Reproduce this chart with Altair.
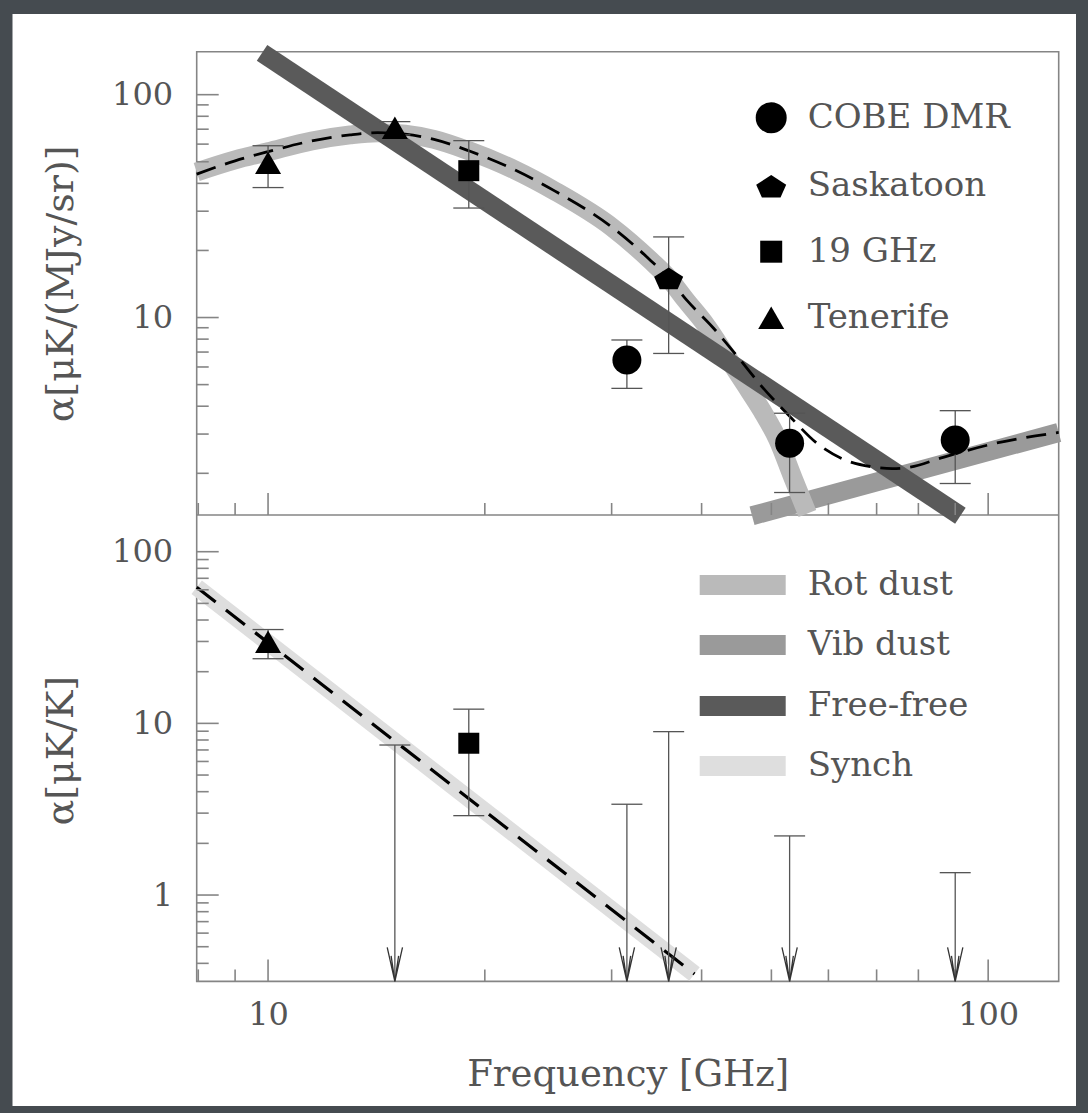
import altair as alt
import pandas as pd

# ---------------- values ----------------
X_DOMAIN = [7.96, 125.3]          # GHz
TOP_Y_DOMAIN = [1.30, 155.9]      # uK/(MJy/sr)
BOT_Y_DOMAIN = [0.314, 163.6]     # uK/K

# top panel measurements
top_survey = ["COBE DMR", "COBE DMR", "COBE DMR", "Saskatoon", "19 GHz", "Tenerife", "Tenerife"]
top_nu = [31.5, 53.0, 90.0, 36.0, 19.0, 10.0, 15.0]
top_val = [6.45, 2.73, 2.82, 15.0, 45.6, 49.5, 71.0]
top_lo = [4.81, 1.64, 1.80, 6.9, 31.0, 38.3, 66.0]
top_hi = [7.93, 3.72, 3.82, 23.0, 62.2, 59.0, 75.7]

# top panel model curves
rot_nu = [7.96, 9, 10, 11.5, 13, 14.2, 15.5, 17, 19, 22, 25, 30, 34, 36, 38, 40.5, 43.6, 46, 48.5, 51, 53.6, 56.1]
rot_val = [45, 51, 55.5, 62, 66, 67.5, 66.5, 63, 56, 46, 37, 25.5, 18, 15, 12, 9.3, 6.5, 5.0, 3.83, 2.85, 1.9, 1.32]
vib_nu = [47.0, 125.3]
vib_val = [1.29, 3.05]
ff_nu = [9.81, 91.5]
ff_val = [154.0, 1.29]
tot_nu = [7.96, 9, 10, 11.5, 13, 14.2, 15.5, 17, 19, 22, 25, 30, 34, 36, 38.2, 41.5, 45, 48.5, 53.2,
          57.9, 62.6, 69.7, 73.6, 77.8, 86.6, 102, 125.3]
tot_val = [44, 50.5, 55.5, 62, 66, 67.5, 66.5, 63, 56, 46, 37, 25.5, 18, 15, 11.9, 9.0, 6.6, 4.9, 3.56,
           2.72, 2.33, 2.13, 2.10, 2.13, 2.36, 2.72, 3.05]

# bottom panel measurements
bot_survey = ["Tenerife", "19 GHz"]
bot_nu = [10.0, 19.0]
bot_val = [29.9, 7.66]
bot_lo = [23.8, 2.90]
bot_hi = [35.2, 12.1]
lim_nu = [15.0, 31.5, 36.0, 53.0, 90.0]        # upper limits
lim_val = [7.48, 3.38, 8.95, 2.21, 1.35]
syn_nu = [7.96, 39.1]
syn_val = [62.1, 0.347]

# ticks
x_major = [10, 100]
x_minor = [8, 9, 20, 30, 40, 50, 60, 70, 80, 90]
ytop_major = [10, 100]
ytop_minor = [2, 3, 4, 5, 6, 7, 8, 9, 20, 30, 40, 50, 60, 70, 80, 90]
ybot_major = [1, 10, 100]
ybot_minor = [0.4, 0.5, 0.6, 0.7, 0.8, 0.9, 2, 3, 4, 5, 6, 7, 8, 9, 20, 30, 40, 50, 60, 70, 80, 90]

top_legend = ["COBE DMR", "Saskatoon", "19 GHz", "Tenerife"]
bot_legend = ["Rot dust", "Vib dust", "Free-free", "Synch"]

# ---------------- styling / layout ----------------
W, H1, H2 = 862, 463.3, 466.4
H = H1 + H2
PAD_L, PAD_T = 196.7, 51.7
FONT = "DejaVu Serif"
TXT = "#555555"
FRAME = "#858585"
C_ROT, C_VIB, C_FF, C_SYN = "#bababa", "#9a9a9a", "#5a5a5a", "#dedede"
ERR = "#555555"
PENTAGON = "M0,-0.75L1,-0.1L0.62,0.75L-0.62,0.75L-1,-0.1Z"
ARROW = "M-0.45,-1L0,1L0.45,-1M-0.22,-0.5L0,1L0.22,-0.5"

xs = alt.Scale(type="log", domain=X_DOMAIN, nice=False)
ys_top = alt.Scale(type="log", domain=TOP_Y_DOMAIN, range=[H1, 0], nice=False)
ys_bot = alt.Scale(type="log", domain=BOT_Y_DOMAIN, range=[H, H1], nice=False)


def yaxis(values, title, cy):
    return alt.Axis(values=values, format="~g", orient="left", ticks=False, tickSize=0, domain=False,
                    grid=False, labelPadding=24, labelFontSize=32, labelFont=FONT, labelColor=TXT,
                    title=title, titleFont=FONT, titleFontSize=38, titleFontWeight="normal",
                    titleColor=TXT, titleAngle=270, titleX=-135, titleY=cy,
                    titleAlign="center", titleBaseline="middle", zindex=1)


AX_TOP = yaxis(ytop_major, "α[μK/(MJy/sr)]", H1 / 2)
AX_BOT = yaxis(ybot_major, "α[μK/K]", H1 + H2 / 2 + 2)
AX_X = alt.Axis(values=x_major, format="~g", orient="bottom", ticks=False, tickSize=0, domain=False,
                grid=False, labelPadding=18, labelFontSize=32, labelFont=FONT, labelColor=TXT,
                title="Frequency [GHz]", titleFont=FONT, titleFontSize=37, titleFontWeight="normal",
                titleColor=TXT, titleY=93, titleBaseline="middle", zindex=1)


def X(f):
    return alt.X(f"{f}:Q", scale=xs, axis=AX_X)


def yt(f, axis=False):
    return alt.Y(f"{f}:Q", scale=ys_top, axis=AX_TOP if axis else None)


def yb(f, axis=False):
    return alt.Y(f"{f}:Q", scale=ys_bot, axis=AX_BOT if axis else None)


one = alt.Data(values=[{"k": 0}])

# ---------------- data frames ----------------
df_top = pd.DataFrame({"survey": top_survey, "nu": top_nu, "val": top_val, "lo": top_lo, "hi": top_hi})
df_rot = pd.DataFrame({"nu": rot_nu, "val": rot_val})
df_vib = pd.DataFrame({"nu": vib_nu, "val": vib_val})
df_ff = pd.DataFrame({"nu": ff_nu, "val": ff_val})
df_tot = pd.DataFrame({"nu": tot_nu, "val": tot_val})
df_bot = pd.DataFrame({"survey": bot_survey, "nu": bot_nu, "val": bot_val, "lo": bot_lo, "hi": bot_hi})
df_lim = pd.DataFrame({"nu": lim_nu, "val": lim_val, "floor": [BOT_Y_DOMAIN[0]] * len(lim_nu)})
df_syn = pd.DataFrame({"nu": syn_nu, "val": syn_val})
df_xmaj = pd.DataFrame({"t": x_major})
df_xmin = pd.DataFrame({"t": x_minor})

shape_of = {"COBE DMR": ("circle", 841), "Saskatoon": (PENTAGON, 841),
            "19 GHz": ("square", 441), "Tenerife": ("triangle-up", 676)}
legend_shape = {"COBE DMR": ("circle", 961), "Saskatoon": (PENTAGON, 900),
                "19 GHz": ("square", 484), "Tenerife": ("triangle-up", 676)}

tick = dict(color=FRAME, strokeWidth=1.6)
cap = dict(orient="horizontal", color=ERR, size=31, thickness=1.3, opacity=1)

layers = [
    # white figure sheet
    alt.Chart(one).mark_rect(color="white").encode(
        x=alt.value(-184.2), x2=alt.value(879.3), y=alt.value(-37.7), y2=alt.value(1054.3)),
    # frames (outer box + panel divider)
    alt.Chart(one).mark_rect(filled=False, stroke=FRAME, strokeWidth=1.6).encode(
        x=alt.value(0), x2=alt.value(W), y=alt.value(0), y2=alt.value(H)),
    alt.Chart(one).mark_rule(**tick).encode(x=alt.value(0), x2=alt.value(W), y=alt.value(H1)),

    # ----- top panel curves -----
    alt.Chart(df_vib).mark_line(color=C_VIB, strokeWidth=19, strokeCap="butt").encode(x=X("nu"), y=yt("val")),
    alt.Chart(df_rot).mark_line(color=C_ROT, strokeWidth=19, strokeCap="butt", interpolate="monotone").encode(
        x=X("nu"), y=yt("val")),
    alt.Chart(df_ff).mark_line(color=C_FF, strokeWidth=19, strokeCap="butt").encode(x=X("nu"), y=yt("val")),
    alt.Chart(df_tot).mark_line(color="black", strokeWidth=2.8, strokeDash=[20, 10], interpolate="monotone").encode(
        x=X("nu"), y=yt("val")),

    # ----- bottom panel curves -----
    alt.Chart(df_syn).mark_line(color=C_SYN, strokeWidth=17, strokeCap="butt").encode(x=X("nu"), y=yb("val")),
    alt.Chart(df_syn).mark_line(color="black", strokeWidth=3.2, strokeDash=[24, 13]).encode(x=X("nu"), y=yb("val")),

    # ----- ticks (inside) -----
    alt.Chart(df_xmaj).mark_rule(**tick).encode(x=X("t"), y=alt.value(H1), y2=alt.value(H1 - 22)),
    alt.Chart(df_xmin).mark_rule(**tick).encode(x=X("t"), y=alt.value(H1), y2=alt.value(H1 - 12)),
    alt.Chart(df_xmaj).mark_rule(**tick).encode(x=X("t"), y=alt.value(H), y2=alt.value(H - 22)),
    alt.Chart(df_xmin).mark_rule(**tick).encode(x=X("t"), y=alt.value(H), y2=alt.value(H - 12)),
    alt.Chart(pd.DataFrame({"t": ytop_major})).mark_rule(**tick).encode(
        y=yt("t", axis=True), x=alt.value(0), x2=alt.value(22)),
    alt.Chart(pd.DataFrame({"t": ytop_minor})).mark_rule(**tick).encode(
        y=yt("t"), x=alt.value(0), x2=alt.value(12)),
    alt.Chart(pd.DataFrame({"t": ybot_major})).mark_rule(**tick).encode(
        y=yb("t", axis=True), x=alt.value(0), x2=alt.value(22)),
    alt.Chart(pd.DataFrame({"t": ybot_minor})).mark_rule(**tick).encode(
        y=yb("t"), x=alt.value(0), x2=alt.value(12)),

    # ----- top panel error bars -----
    alt.Chart(df_top).mark_rule(color=ERR, strokeWidth=1.3).encode(x=X("nu"), y=yt("lo"), y2="hi:Q"),
    alt.Chart(df_top).mark_tick(**cap).encode(x=X("nu"), y=yt("lo")),
    alt.Chart(df_top).mark_tick(**cap).encode(x=X("nu"), y=yt("hi")),

    # ----- bottom panel error bars and upper limits -----
    alt.Chart(df_bot).mark_rule(color=ERR, strokeWidth=1.3).encode(x=X("nu"), y=yb("lo"), y2="hi:Q"),
    alt.Chart(df_bot).mark_tick(**cap).encode(x=X("nu"), y=yb("lo")),
    alt.Chart(df_bot).mark_tick(**cap).encode(x=X("nu"), y=yb("hi")),
    alt.Chart(df_lim).mark_rule(color=ERR, strokeWidth=1.3).encode(x=X("nu"), y=yb("val"), y2="floor:Q"),
    alt.Chart(df_lim).mark_tick(**cap).encode(x=X("nu"), y=yb("val")),
    alt.Chart(df_lim).mark_point(shape=ARROW, size=1156, filled=False, stroke="#333", strokeWidth=1.3,
                                 opacity=1, yOffset=-17).encode(x=X("nu"), y=yb("floor")),
]

# data markers
for s in top_legend:
    shp, sz = shape_of[s]
    layers.append(alt.Chart(df_top).transform_filter(alt.datum.survey == s).mark_point(
        shape=shp, size=sz, filled=True, color="black", opacity=1).encode(x=X("nu"), y=yt("val")))
for s in bot_survey:
    shp, sz = shape_of[s]
    layers.append(alt.Chart(df_bot).transform_filter(alt.datum.survey == s).mark_point(
        shape=shp, size=sz, filled=True, color="black", opacity=1).encode(x=X("nu"), y=yb("val")))

# legends (drawn in pixel space)
leg_y_top = [66, 134.5, 200, 266]
for s, yy in zip(top_legend, leg_y_top):
    shp, sz = legend_shape[s]
    layers.append(alt.Chart(one).mark_point(shape=shp, size=sz, filled=True, color="black", opacity=1).encode(
        x=alt.value(574.5), y=alt.value(yy)))
    layers.append(alt.Chart(one).mark_text(text=s, align="left", baseline="middle", font=FONT,
                                           fontSize=34, color=TXT).encode(x=alt.value(611), y=alt.value(yy)))

leg_y_bot = [H1 + 70, H1 + 130, H1 + 191, H1 + 251]
for lab, col, yy in zip(bot_legend, [C_ROT, C_VIB, C_FF, C_SYN], leg_y_bot):
    layers.append(alt.Chart(one).mark_rule(color=col, strokeWidth=20, strokeCap="butt").encode(
        x=alt.value(503), x2=alt.value(589), y=alt.value(yy)))
    layers.append(alt.Chart(one).mark_text(text=lab, align="left", baseline="middle", font=FONT,
                                           fontSize=34, color=TXT).encode(x=alt.value(611), y=alt.value(yy)))

chart = alt.layer(*layers).resolve_scale(y="independent").resolve_axis(y="independent").properties(
    width=W, height=H,
    autosize=alt.AutoSizeParams(type="none"),
    padding={"left": PAD_L, "top": PAD_T, "right": 1088 - PAD_L - W, "bottom": 1113 - PAD_T - H},
).configure(background="#454b50").configure_view(stroke=None)

chart.save("out.html", embed_options={"renderer": "svg", "actions": False})
